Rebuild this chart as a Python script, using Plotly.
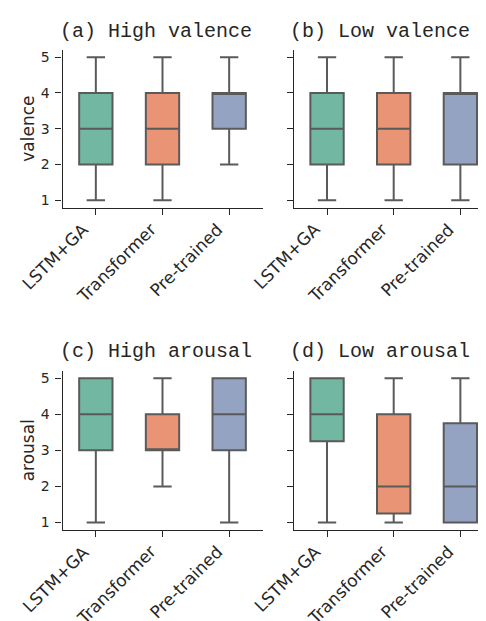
import plotly.graph_objects as go

W, H = 486, 621

models = ["LSTM+GA", "Transformer", "Pre-trained"]
colors = ["#71b7a1", "#e99575", "#95a3c3"]
panel_titles = ["(a) High valence", "(b) Low valence", "(c) High arousal", "(d) Low arousal"]
row_labels = ["valence", "arousal"]
yticks = [1, 2, 3, 4, 5]

# per panel, per model: [lowerfence, q1, median, q3, upperfence]
high_valence = [[1, 2, 3, 4, 5], [1, 2, 3, 4, 5], [2, 3, 4, 4, 5]]
low_valence = [[1, 2, 3, 4, 5], [1, 2, 3, 4, 5], [1, 2, 4, 4, 5]]
high_arousal = [[1, 3, 4, 5, 5], [2, 3, 3, 4, 5], [1, 3, 4, 5, 5]]
low_arousal = [[1, 3.25, 4, 5, 5], [1, 1.25, 2, 4, 5], [1, 1, 2, 3.75, 5]]
panels = [high_valence, low_valence, high_arousal, low_arousal]

TXT = "#262626"
LINE = "#5a5a5a"

# axes boxes in pixels: (left, right, top, bottom)
boxes = [(54.5, 254.5, 42, 199.5), (285.7, 485.7, 42, 199.5),
         (54.5, 254.5, 363, 521.7), (285.7, 485.7, 363, 521.7)]
title_pos = [(147.5, 23.5), (372, 23.5), (148, 343.5), (372, 343.5)]

fig = go.Figure()
for p, data in enumerate(panels):
    ax = "" if p == 0 else str(p + 1)
    for m, vals in enumerate(data):
        lf, q1, med, q3, uf = vals
        fig.add_trace(go.Box(
            x=[models[m]], q1=[q1], median=[med], q3=[q3], lowerfence=[lf], upperfence=[uf],
            fillcolor=colors[m], line=dict(color=LINE, width=2), width=0.5, whiskerwidth=0.55,
            boxpoints=False, showlegend=False, xaxis="x" + ax, yaxis="y" + ax, hoverinfo="skip"))

layout = dict(width=W, height=H, margin=dict(l=0, r=0, t=0, b=0),
              plot_bgcolor="white", paper_bgcolor="white", boxmode="overlay",
              font=dict(family="DejaVu Sans", color=TXT))
annotations = []
for p, (l, r, t, b) in enumerate(boxes):
    ax = "" if p == 0 else str(p + 1)
    layout["xaxis" + ax] = dict(
        domain=[l / W, r / W], anchor="y" + ax, type="category", categoryorder="array",
        categoryarray=models, range=[-0.5, 2.5], showline=True, linecolor=TXT, linewidth=1.25,
        ticks="outside", ticklen=6, tickwidth=1.25, tickcolor=TXT, showgrid=False, zeroline=False,
        showticklabels=False, automargin=False)
    layout["yaxis" + ax] = dict(
        domain=[1 - b / H, 1 - t / H], anchor="x" + ax, range=[0.8, 5.2], tickvals=yticks,
        showticklabels=(p % 2 == 0), showline=True, linecolor=TXT, linewidth=1.25,
        ticks="outside", ticklen=6, tickwidth=1.25, tickcolor=TXT, showgrid=False, zeroline=False,
        tickfont=dict(size=14, color=TXT, family="DejaVu Sans"), automargin=False,
        ticklabelstandoff=3)
    # rotated category labels, bbox top-right anchored at the tick (matplotlib ha='right')
    for m in models:
        annotations.append(dict(text=m, x=m, xref="x" + ax, y=1 - (b + 9) / H, yref="paper",
                                xanchor="right", yanchor="top", textangle=-45, showarrow=False,
                                font=dict(family="DejaVu Sans", size=17, color=TXT)))
    tx, ty = title_pos[p]
    annotations.append(dict(text=panel_titles[p], x=tx / W, y=1 - ty / H, xref="paper", yref="paper",
                            showarrow=False, xanchor="center", yanchor="middle",
                            font=dict(family="Liberation Mono, Courier New, monospace", size=20, color=TXT)))
for i, lab in enumerate(row_labels):
    l, r, t, b = boxes[2 * i]
    annotations.append(dict(text=lab, x=20 / W, y=1 - (t + b) / 2 / H, xref="paper", yref="paper",
                            showarrow=False, xanchor="center", yanchor="middle", textangle=-90,
                            font=dict(family="DejaVu Sans", size=17, color=TXT)))
layout["annotations"] = annotations
fig.update_layout(**layout)
fig.write_html("out.html")
